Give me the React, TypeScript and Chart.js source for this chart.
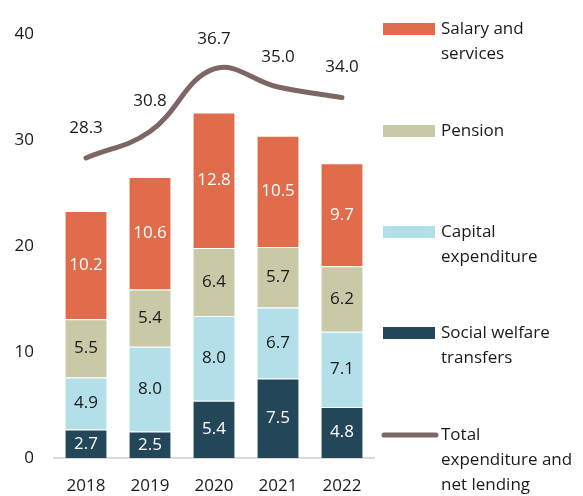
import React, { useEffect, useRef } from "react";
import { Chart, registerables } from "chart.js";

Chart.register(...registerables);

const categories = ["2018", "2019", "2020", "2021", "2022"];
const socialWelfare = [2.7, 2.5, 5.4, 7.5, 4.8];
const capitalExp = [4.9, 8.0, 8.0, 6.7, 7.1];
const pension = [5.5, 5.4, 6.4, 5.7, 6.2];
const salary = [10.2, 10.6, 12.8, 10.5, 9.7];
const totalExp = [28.3, 30.8, 36.7, 35.0, 34.0];
const yTicks = [0, 10, 20, 30, 40];

const FONT = "'Open Sans', 'Noto Sans', sans-serif";
const FS = 17;
const TEXT = "#1a1a1a";

const legendItems = [
  { lines: ["Salary and", "services"], color: "#E06C4B", type: "box", y: 29 },
  { lines: ["Pension"], color: "#C9C9A8", type: "box", y: 131 },
  { lines: ["Capital", "expenditure"], color: "#B3E0E8", type: "box", y: 232 },
  { lines: ["Social welfare", "transfers"], color: "#234659", type: "box", y: 333 },
  { lines: ["Total", "expenditure and", "net lending"], color: "#7D6663", type: "line", y: 435 },
];

const labelPlugin = {
  id: "labels",
  afterDatasetsDraw(chart: any) {
    const ctx = chart.ctx;
    ctx.save();
    ctx.font = `${FS}px ${FONT}`;
    ctx.textAlign = "center";
    ctx.textBaseline = "middle";
    chart.data.datasets.forEach((ds: any, di: number) => {
      const meta = chart.getDatasetMeta(di);
      meta.data.forEach((el: any, i: number) => {
        const v = ds.data[i];
        const txt = v.toFixed(1);
        if (ds.type === "line") {
          ctx.fillStyle = TEXT;
          ctx.fillText(txt, el.x, el.y - 30);
        } else {
          ctx.fillStyle = ds.labelColor;
          ctx.fillText(txt, el.x, (el.y + el.base) / 2);
        }
      });
    });
    ctx.restore();
  },
  afterDraw(chart: any) {
    const ctx = chart.ctx;
    ctx.save();
    ctx.font = `${FS}px ${FONT}`;
    ctx.textAlign = "left";
    ctx.textBaseline = "middle";
    legendItems.forEach((it) => {
      if (it.type === "box") {
        ctx.fillStyle = it.color;
        ctx.fillRect(383, it.y - 6, 52, 12);
      } else {
        ctx.strokeStyle = it.color;
        ctx.lineWidth = 5;
        ctx.lineCap = "round";
        ctx.beginPath();
        ctx.moveTo(384, it.y);
        ctx.lineTo(436, it.y);
        ctx.stroke();
      }
      ctx.fillStyle = TEXT;
      it.lines.forEach((l, k) => ctx.fillText(l, 441, it.y + k * 25));
    });
    ctx.restore();
  },
};

export default function App() {
  const ref = useRef<HTMLCanvasElement | null>(null);
  useEffect(() => {
    document.body.style.margin = "0";
    const mk = (label: string, data: number[], color: string, labelColor: string) => ({
      type: "bar" as const,
      label,
      data,
      backgroundColor: color,
      borderColor: "rgba(255,255,255,0.45)",
      borderWidth: 1,
      labelColor,
      order: 1,
      stack: "s",
    });
    const chart = new Chart(ref.current as HTMLCanvasElement, {
      data: {
        labels: categories,
        datasets: [
          {
            type: "line",
            label: "Total expenditure and net lending",
            data: totalExp,
            borderColor: "#7D6663",
            borderWidth: 5,
            borderCapStyle: "round",
            pointRadius: 0,
            tension: 0.4,
            fill: false,
            order: 0,
            stack: "line",
          } as any,
          mk("Social welfare transfers", socialWelfare, "#234659", "#ffffff"),
          mk("Capital expenditure", capitalExp, "#B3E0E8", TEXT),
          mk("Pension", pension, "#C9C9A8", TEXT),
          mk("Salary and services", salary, "#E06C4B", "#ffffff"),
        ],
      },
      options: {
        animation: false,
        responsive: true,
        maintainAspectRatio: false,
        layout: { padding: { top: 34, right: 209, left: 0, bottom: 0 } },
        plugins: { legend: { display: false }, tooltip: { enabled: false } },
        datasets: { bar: { barPercentage: 0.67, categoryPercentage: 1 } },
        scales: {
          x: {
            stacked: true,
            grid: { display: false, drawTicks: false },
            border: { display: true, color: "#D9D9D9", width: 2 },
            ticks: { color: TEXT, font: { family: FONT, size: FS }, padding: 18 },
            afterFit: (s: any) => {
              s.height = 38;
            },
          },
          y: {
            stacked: true,
            min: 0,
            max: 40,
            afterBuildTicks: (s: any) => {
              s.ticks = yTicks.map((v) => ({ value: v }));
            },
            grid: { display: false, drawTicks: false },
            border: { display: false },
            ticks: { color: TEXT, font: { family: FONT, size: FS }, padding: 20 },
            afterFit: (s: any) => {
              s.width = 54;
            },
          },
        },
      },
      plugins: [labelPlugin],
    });
    return () => chart.destroy();
  }, []);
  return (
    <div style={{ width: 583, height: 496, position: "relative" }}>
      <canvas ref={ref} />
    </div>
  );
}
